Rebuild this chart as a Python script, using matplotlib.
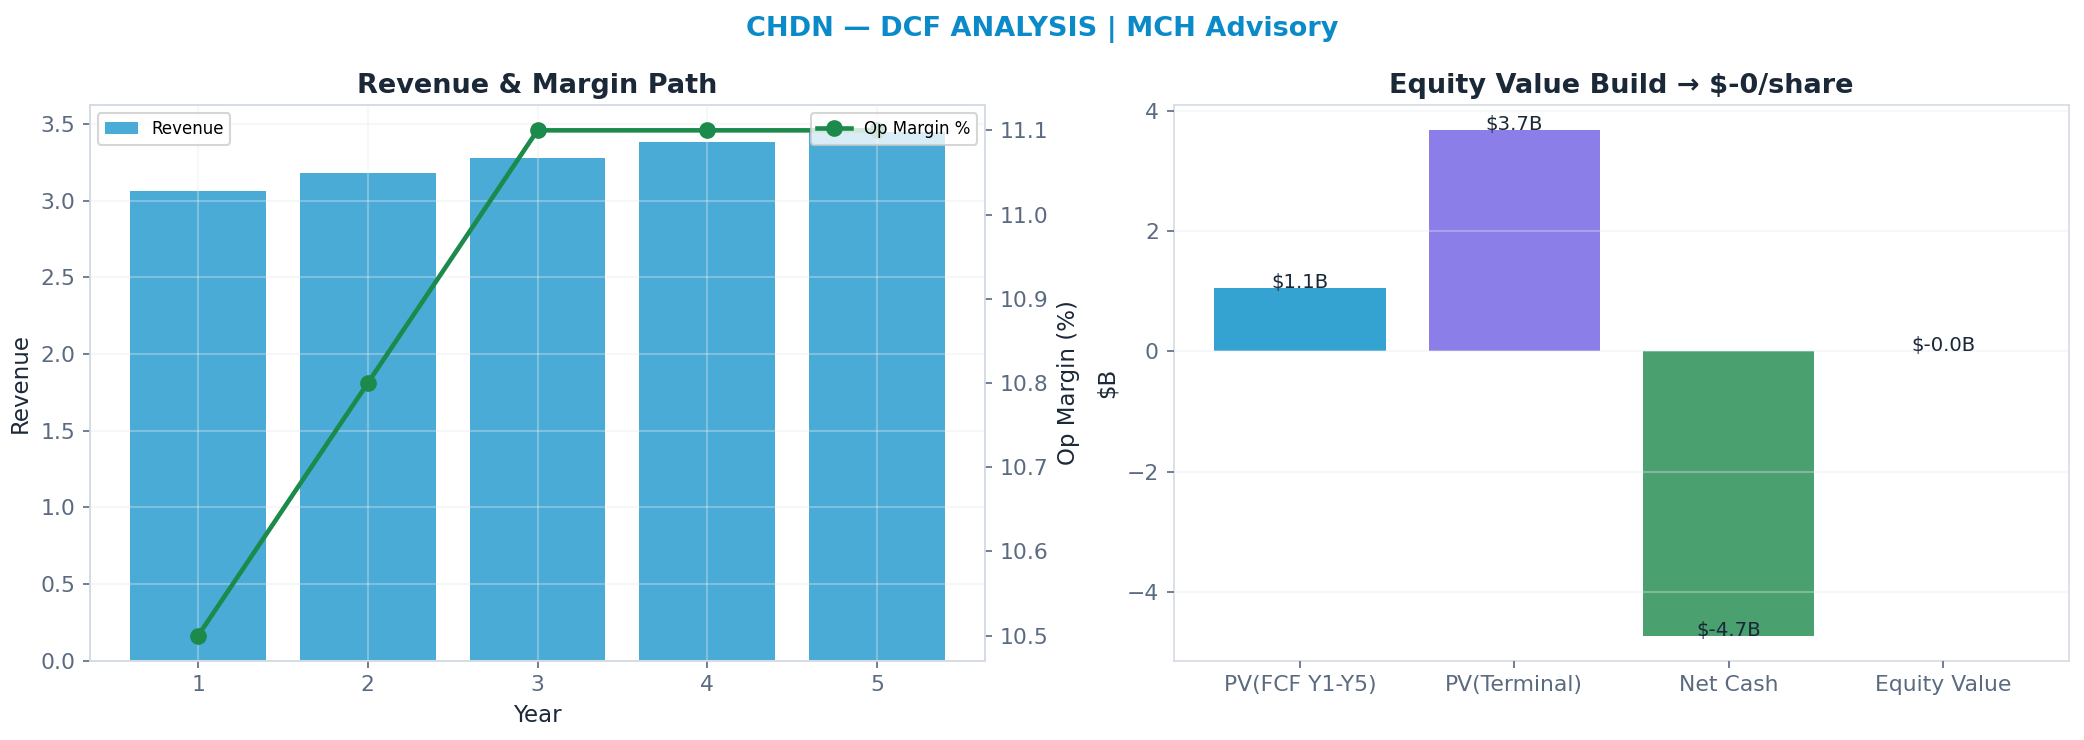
import numpy as np
import matplotlib
matplotlib.use('Agg')
import matplotlib.pyplot as plt

# data
years = [1, 2, 3, 4, 5]
revenue = [3.06, 3.18, 3.28, 3.38, 3.45]
op_margin = [10.5, 10.8, 11.1, 11.1, 11.1]

bridge_labels = ['PV(FCF Y1-Y5)', 'PV(Terminal)', 'Net Cash', 'Equity Value']
bridge_values = [1.05, 3.68, -4.73, -0.0005]
bridge_colors = ['#1193cb', '#7768e6', '#2a9056', '#7768e6']

TXT = '#1a2838'
TICK = '#5a6a80'
SPINE = '#d5dce5'

plt.rcParams['font.family'] = 'DejaVu Sans'

fig, (ax1, ax3) = plt.subplots(1, 2, figsize=(2084 / 150, 740 / 150), dpi=150)
fig.subplots_adjust(left=0.043, right=0.993, top=0.858, bottom=0.107, wspace=0.21)

fig.suptitle('CHDN — DCF ANALYSIS | MCH Advisory', color='#0a8ac8',
             fontsize=13, fontweight='bold', y=0.978)

for ax in (ax1, ax3):
    for s in ax.spines.values():
        s.set_color(SPINE)
    ax.tick_params(colors=TICK, labelsize=10.5)
    ax.set_axisbelow(False)

# left: revenue bars + margin line
ax1.bar(years, revenue, color='#2a9dd1', alpha=0.85, width=0.8, label='Revenue')
ax1.grid(True, color='#e6eaf0', linewidth=1, alpha=0.35)
ax1.set_xlabel('Year', color=TXT, fontsize=11)
ax1.set_ylabel('Revenue', color=TXT, fontsize=11)
ax1.set_title('Revenue & Margin Path', color=TXT, fontsize=13, fontweight='bold')
ax1.set_xticks(years)
ax1.legend(loc='upper left', fontsize=8, edgecolor='#cccccc')

ax2 = ax1.twinx()
ax2.plot(years, op_margin, color='#1b8a4a', marker='o', linewidth=2.2,
         markersize=7, label='Op Margin %')
ax2.set_ylabel('Op Margin (%)', color=TXT, fontsize=11)
ax2.tick_params(colors=TICK, labelsize=10.5)
for s in ax2.spines.values():
    s.set_color(SPINE)
ax2.legend(loc='upper right', fontsize=8, edgecolor='#cccccc')

# right: equity bridge
x = np.arange(len(bridge_labels))
ax3.bar(x, bridge_values, color=bridge_colors, alpha=0.85, width=0.8, linewidth=0)
ax3.grid(True, axis='y', color='#e6eaf0', linewidth=1, alpha=0.35)
for i, v in enumerate(bridge_values):
    ax3.text(i, v, f'${v:.1f}B', ha='center', va='baseline', fontsize=9.5, color=TXT)
ax3.set_xticks(x)
ax3.set_xticklabels(bridge_labels)
ax3.set_ylabel('$B', color=TXT, fontsize=11)
ax3.set_title('Equity Value Build → $-0/share', color=TXT, fontsize=13, fontweight='bold')

fig.savefig('out.png', dpi=150)
